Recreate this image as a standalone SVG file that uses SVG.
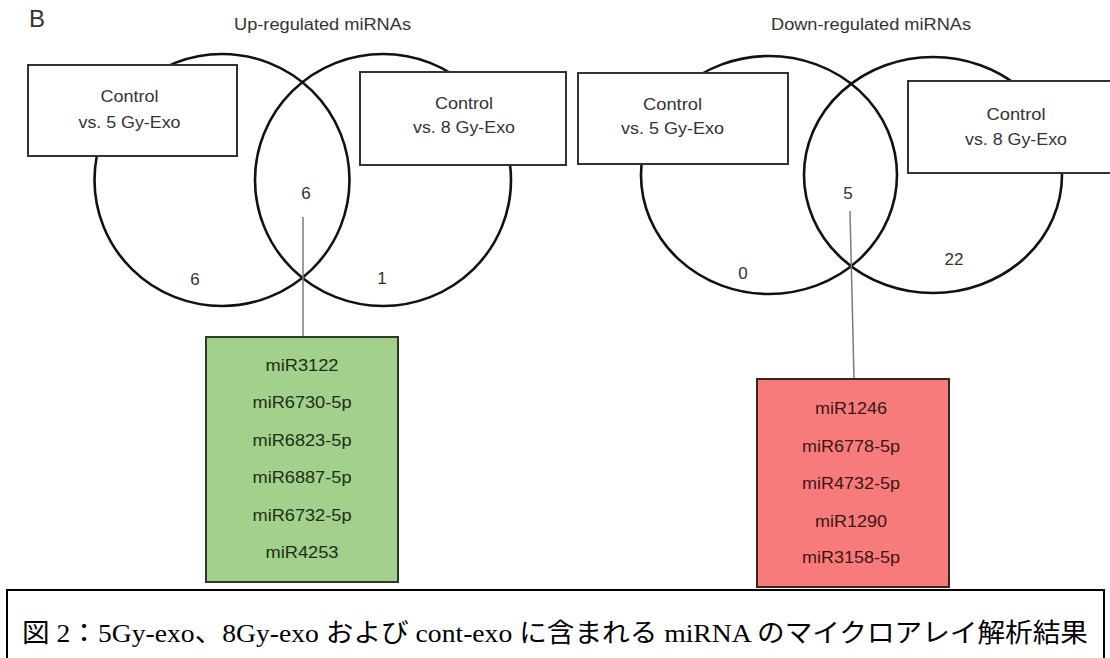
<svg xmlns="http://www.w3.org/2000/svg" width="1110" height="658" viewBox="0 0 1110 658">
<style>
.lbl{font-family:"Liberation Sans",Arial,sans-serif;font-size:16px;fill:#333;text-anchor:middle}
.num{font-family:"Liberation Sans",Arial,sans-serif;font-size:17px;fill:#333;text-anchor:middle}
.ttl{font-family:"Liberation Sans",Arial,sans-serif;font-size:16px;fill:#333;text-anchor:middle}
.venn{fill:none;stroke:#111;stroke-width:2.6}
.box{fill:#fff;stroke:#333;stroke-width:2}
.lead{stroke:#7a7a7a;stroke-width:1.5;fill:none}
.mir{font-family:"Liberation Sans",Arial,sans-serif;font-size:16px;text-anchor:middle}
</style>
<rect width="1110" height="658" fill="#fff"/>
<text x="29" y="27" font-family="Liberation Sans, Arial, sans-serif" font-size="24" fill="#333">B</text>
<text class="ttl" x="322.5" y="30" textLength="177" lengthAdjust="spacingAndGlyphs">Up-regulated miRNAs</text>
<text class="ttl" x="871" y="30" textLength="200" lengthAdjust="spacingAndGlyphs">Down-regulated miRNAs</text>

<g id="up-venn">
<ellipse class="venn" cx="222" cy="180" rx="127.5" ry="126"/>
<ellipse class="venn" cx="383" cy="180" rx="128" ry="126"/>
<text class="num" x="306" y="199">6</text>
<text class="num" x="195" y="285">6</text>
<text class="num" x="382" y="284">1</text>
</g>
<g id="up-box-5gy">
<rect class="box" x="28" y="65" width="209" height="91"/>
<text class="lbl" x="129.5" y="102" textLength="58" lengthAdjust="spacingAndGlyphs">Control</text>
<text class="lbl" x="129.5" y="128" textLength="102" lengthAdjust="spacingAndGlyphs">vs. 5 Gy-Exo</text>
</g>
<g id="up-box-8gy">
<rect class="box" x="360" y="72" width="206" height="93"/>
<text class="lbl" x="464" y="109" textLength="58" lengthAdjust="spacingAndGlyphs">Control</text>
<text class="lbl" x="464" y="133" textLength="102" lengthAdjust="spacingAndGlyphs">vs. 8 Gy-Exo</text>
</g>

<g id="down-venn">
<ellipse class="venn" cx="769" cy="175" rx="128" ry="119"/>
<ellipse class="venn" cx="933" cy="175" rx="129" ry="118"/>
<text class="num" x="848" y="199">5</text>
<text class="num" x="743" y="279">0</text>
<text class="num" x="954" y="265">22</text>
</g>
<g id="down-box-5gy">
<rect class="box" x="578" y="73" width="210" height="91"/>
<text class="lbl" x="672.5" y="110" textLength="59" lengthAdjust="spacingAndGlyphs">Control</text>
<text class="lbl" x="672.5" y="134" textLength="103" lengthAdjust="spacingAndGlyphs">vs. 5 Gy-Exo</text>
</g>
<g id="down-box-8gy">
<rect class="box" x="908" y="81" width="216" height="92"/>
<text class="lbl" x="1016" y="120" textLength="59" lengthAdjust="spacingAndGlyphs">Control</text>
<text class="lbl" x="1016" y="145" textLength="102" lengthAdjust="spacingAndGlyphs">vs. 8 Gy-Exo</text>
</g>

<g id="connectors">
<line class="lead" x1="303" y1="217" x2="303" y2="337"/>
<line class="lead" x1="850" y1="211" x2="854" y2="379"/>
</g>

<g id="up-list">
<rect x="206" y="337" width="192" height="245" fill="#a3d08b" stroke="#2e3a2a" stroke-width="2"/>
<g class="mir" fill="#1e2e1a">
<text x="302" y="371" textLength="73" lengthAdjust="spacingAndGlyphs">miR3122</text>
<text x="302" y="408" textLength="99" lengthAdjust="spacingAndGlyphs">miR6730-5p</text>
<text x="302" y="446" textLength="99" lengthAdjust="spacingAndGlyphs">miR6823-5p</text>
<text x="302" y="483" textLength="99" lengthAdjust="spacingAndGlyphs">miR6887-5p</text>
<text x="302" y="521" textLength="99" lengthAdjust="spacingAndGlyphs">miR6732-5p</text>
<text x="302" y="558" textLength="73" lengthAdjust="spacingAndGlyphs">miR4253</text>
</g>
</g>

<g id="down-list">
<rect x="757" y="379" width="192" height="208" fill="#f87b7b" stroke="#3a2222" stroke-width="2"/>
<g class="mir" fill="#3a1616">
<text x="851" y="414" textLength="72" lengthAdjust="spacingAndGlyphs">miR1246</text>
<text x="851" y="452" textLength="98" lengthAdjust="spacingAndGlyphs">miR6778-5p</text>
<text x="851" y="489" textLength="98" lengthAdjust="spacingAndGlyphs">miR4732-5p</text>
<text x="851" y="527" textLength="72" lengthAdjust="spacingAndGlyphs">miR1290</text>
<text x="851" y="563" textLength="98" lengthAdjust="spacingAndGlyphs">miR3158-5p</text>
</g>
</g>

<g id="caption">
<rect x="7" y="590" width="1097" height="90" fill="#fff" stroke="#000" stroke-width="2"/>
<text x="22" y="642" font-family="Liberation Serif, 'Noto Sans CJK JP', serif" font-size="26" fill="#000" textLength="1066" lengthAdjust="spacingAndGlyphs">図 2：5Gy-exo、8Gy-exo および cont-exo に含まれる miRNA のマイクロアレイ解析結果</text>
</g>
</svg>
